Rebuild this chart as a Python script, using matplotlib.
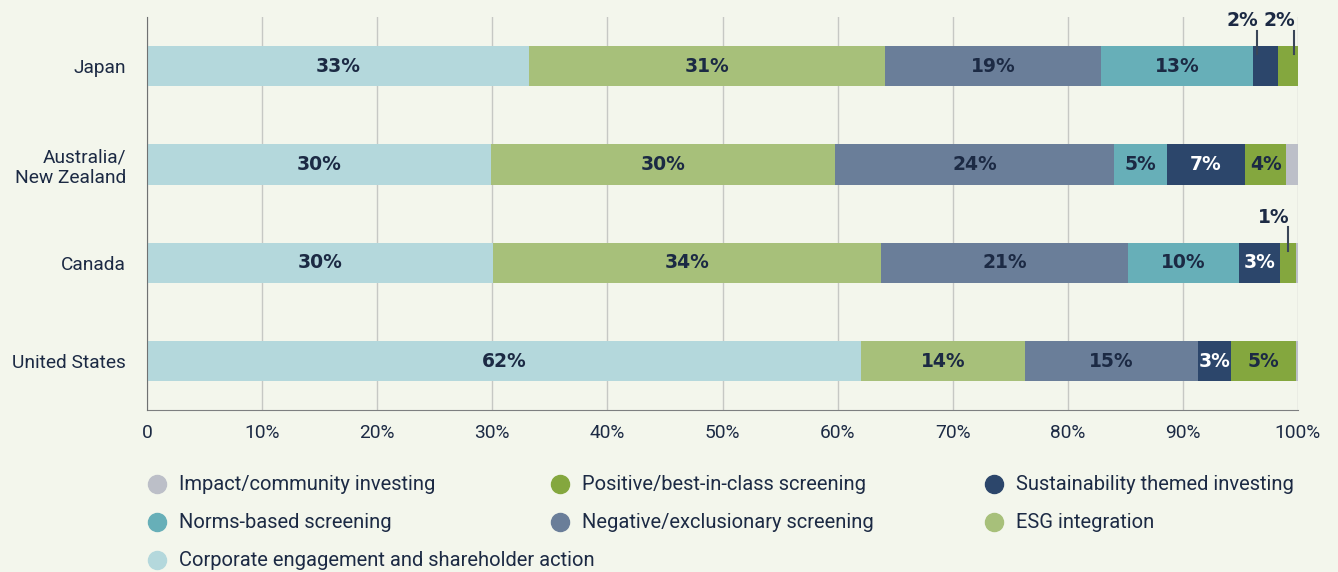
import numpy as np
import matplotlib.pyplot as plt
from matplotlib.lines import Line2D

# stacked horizontal bars - share of responsible investment approaches by region

regions = ["Japan", "Australia/\nNew Zealand", "Canada", "United States"]

# segment order, left to right
engagement = [33.2, 29.9, 30.1, 62.0]
esg = [30.9, 29.9, 33.7, 14.3]
negative = [18.8, 24.2, 21.4, 15.0]
norms = [13.2, 4.6, 9.7, 0.0]
themed = [2.2, 6.8, 3.5, 2.9]
positive = [1.7, 3.6, 1.4, 5.6]
impact = [0.0, 1.0, 0.3, 0.3]

# printed labels (None = no label, tuple = label above the bar with a leader line)
engagement_lbl = ["33%", "30%", "30%", "62%"]
esg_lbl = ["31%", "30%", "34%", "14%"]
negative_lbl = ["19%", "24%", "21%", "15%"]
norms_lbl = ["13%", "5%", "10%", None]
themed_lbl = [("2%", 0.15), "7%", "3%", "3%"]
positive_lbl = [("2%", 0.8), "4%", ("1%", 0.55), "5%"]
impact_lbl = [None, None, None, None]

BG = "#f3f6ec"
TXT = "#1c2a44"

series = [
    ("Corporate engagement and shareholder action", engagement, engagement_lbl, "#b4d8dc", TXT),
    ("ESG integration", esg, esg_lbl, "#a7c07a", TXT),
    ("Negative/exclusionary screening", negative, negative_lbl, "#6a7e99", TXT),
    ("Norms-based screening", norms, norms_lbl, "#67afb8", TXT),
    ("Sustainability themed investing", themed, themed_lbl, "#2c466b", "white"),
    ("Positive/best-in-class screening", positive, positive_lbl, "#84a73e", TXT),
    ("Impact/community investing", impact, impact_lbl, "#bcbfc8", TXT),
]

fig = plt.figure(figsize=(13.38, 5.72), dpi=100, facecolor=BG)
ax = fig.add_axes([0.1099, 0.283, 0.8602, 0.687])
ax.set_facecolor(BG)

y = np.arange(len(regions))
left = np.zeros(len(regions))
bar_h = 0.41
colors = {}
for name, vals, lbls, col, tcol in series:
    vals = np.array(vals)
    ax.barh(y, vals, left=left, height=bar_h, color=col, zorder=3)
    colors[name] = col
    for i, lab in enumerate(lbls):
        if lab is None:
            continue
        if isinstance(lab, tuple):
            txt, frac = lab
            xx = left[i] + vals[i] * frac
            ax.plot([xx, xx], [y[i] - 0.36, y[i] - 0.12], color="#3a4658", lw=1.5, zorder=4)
            ax.text(xx + 0.1, y[i] - 0.465, txt, ha="right", va="center",
                    fontsize=13.5, fontweight="bold", color=TXT)
        else:
            ax.text(left[i] + vals[i] / 2, y[i], lab, ha="center", va="center",
                    fontsize=13.5, fontweight="bold", color=tcol, zorder=5)
    left = left + vals

ax.set_xlim(0, 100)
ax.set_ylim(3.5, -0.5)
ax.set_yticks(y)
ax.set_yticklabels(regions, fontsize=13.8, color=TXT, family="Roboto")
ax.set_xticks(np.arange(0, 101, 10))
ax.set_xticklabels(["0"] + [f"{v}%" for v in range(10, 101, 10)], fontsize=13.8, color=TXT, family="Roboto")
ax.tick_params(axis="both", length=0)
ax.tick_params(axis="y", pad=15)
ax.tick_params(axis="x", pad=10)
ax.grid(axis="x", color="#c6c8c4", lw=1, zorder=0)
for s in ["top", "right"]:
    ax.spines[s].set_visible(False)
ax.spines["left"].set_color("#6f7172")
ax.spines["bottom"].set_color("#7d7f80")
ax.spines["left"].set_zorder(4)

# legend laid out by hand (3 columns, row-major)
legend_order = [
    "Impact/community investing", "Positive/best-in-class screening", "Sustainability themed investing",
    "Norms-based screening", "Negative/exclusionary screening", "ESG integration",
    "Corporate engagement and shareholder action",
]
col_x = [157 / 1338, 560 / 1338, 994 / 1338]
row_y = [1 - 484 / 572, 1 - 522 / 572, 1 - 560 / 572]
for k, name in enumerate(legend_order):
    cx, ry = col_x[k % 3], row_y[k // 3]
    fig.add_artist(Line2D([cx], [ry], marker="o", markersize=13, color=colors[name],
                          transform=fig.transFigure, lw=0))
    fig.text(cx + 22 / 1338, ry, name, ha="left", va="center", fontsize=14.5,
             color=TXT, family="Roboto")

plt.savefig("out.png", dpi=100, facecolor=BG)
